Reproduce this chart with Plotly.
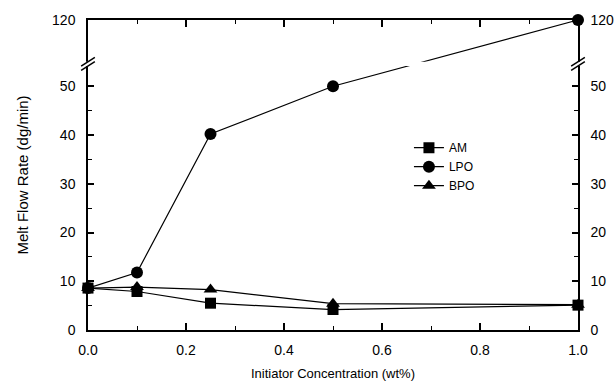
import plotly.graph_objects as go

# ---- data ----
conc = [0.0, 0.1, 0.25, 0.5, 1.0]
am = [8.6, 7.9, 5.5, 4.2, 5.1]
lpo = [8.6, 11.8, 40.2, 50.0, 120.0]
bpo = [8.6, 8.8, 8.3, 5.4, 5.2]
y_tick_values = [0, 10, 20, 30, 40, 50, 120]
y_tick_labels = ["0", "10", "20", "30", "40", "50", "120"]
y_minor = [5, 15, 25, 35, 45]
x_ticks = [0.0, 0.2, 0.4, 0.6, 0.8, 1.0]

# ---- broken-axis mapping ----
BREAK = 54.6
TOP_RAW = 120.0
TOP_DISP = 63.6


def disp(v):
    if v <= BREAK:
        return v
    return BREAK + (v - BREAK) * (TOP_DISP - BREAK) / (TOP_RAW - BREAK)


FONT = "Liberation Sans, Arial, sans-serif"
fig = go.Figure()

series = [("AM", am, "square"), ("LPO", lpo, "circle"), ("BPO", bpo, "triangle-up")]
sizes = {"square": 11, "circle": 12, "triangle-up": 12}
for name, vals, sym in series:
    fig.add_trace(go.Scatter(
        x=conc, y=[disp(v) for v in vals], name=name, mode="lines+markers",
        line=dict(color="black", width=1.2),
        marker=dict(symbol=sym, size=sizes[sym], color="black"),
        cliponaxis=False,
    ))

# dummy trace for the right-hand axis
fig.add_trace(go.Scatter(x=[None], y=[None], yaxis="y2", showlegend=False, hoverinfo="skip"))

tv = [disp(v) for v in y_tick_values]
axis_common = dict(
    range=[0, TOP_DISP], tickvals=tv, ticktext=y_tick_labels,
    ticks="inside", ticklen=6, tickwidth=1.5, tickcolor="black",
    showline=True, linecolor="black", linewidth=1.5, showgrid=False, zeroline=False,
    tickfont=dict(family=FONT, size=14, color="black"),
    ticklabelstandoff=8, automargin=False,
    minor=dict(tickvals=y_minor, ticks="inside", ticklen=4, tickwidth=1.2, tickcolor="black"),
)

fig.update_layout(
    width=616, height=381,
    margin=dict(l=88, r=38, t=20, b=51),
    paper_bgcolor="white", plot_bgcolor="white",
    font=dict(family=FONT, color="black"),
    showlegend=True,
    legend=dict(x=0.655, y=0.635, xanchor="left", yanchor="top",
                bgcolor="rgba(0,0,0,0)", font=dict(family=FONT, size=12, color="black"),
                tracegroupgap=0, itemwidth=30),
    xaxis=dict(
        range=[0, 1], tickvals=x_ticks, tickformat=".1f",
        ticks="inside", ticklen=7, tickwidth=1.5, tickcolor="black",
        showline=True, linecolor="black", linewidth=1.5, mirror="ticks",
        showgrid=False, zeroline=False, automargin=False,
        tickfont=dict(family=FONT, size=14, color="black"),
        ticklabelstandoff=6,
        minor=dict(dtick=0.1, ticks="inside", ticklen=4, tickwidth=1.2, tickcolor="black"),
        title=dict(text="Initiator Concentration (wt%)", font=dict(family=FONT, size=13, color="black"),
                   standoff=12),
    ),
    yaxis=dict(
        **axis_common,
        title=dict(text="Melt Flow Rate (dg/min)", font=dict(family=FONT, size=15, color="black"),
                   standoff=20),
    ),
    yaxis2=dict(**axis_common, overlaying="y", side="right"),
)

# axis break: white gap plus double slashes on both vertical axes
gap_lo, gap_hi = BREAK - 0.45, BREAK + 0.45
fig.add_shape(type="rect", xref="paper", yref="y", x0=-0.01, x1=1.01, y0=gap_lo, y1=gap_hi,
              fillcolor="white", line=dict(width=0), layer="above")
dx = 0.014
dy = 0.9
for xc in (0.0, 1.0):
    for yc in (gap_lo, gap_hi):
        fig.add_shape(type="line", xref="paper", yref="y",
                      x0=xc - dx, x1=xc + dx, y0=yc - dy, y1=yc + dy,
                      line=dict(color="black", width=1.5), layer="above")

fig.write_html("out.html")
